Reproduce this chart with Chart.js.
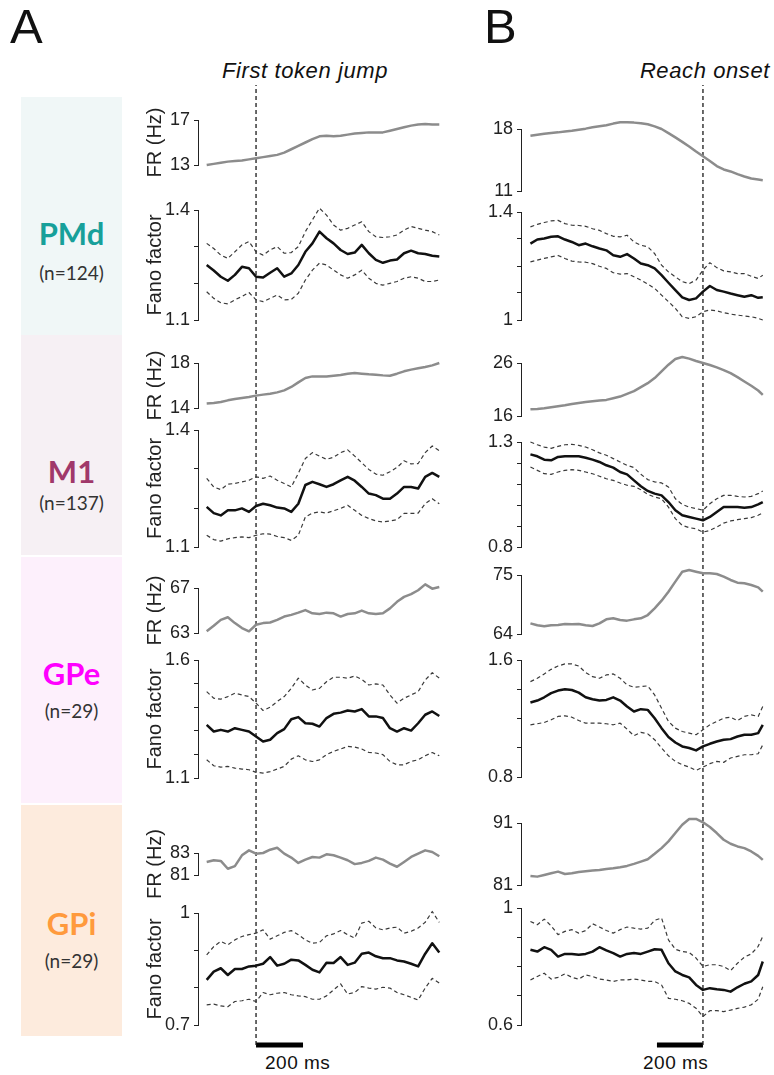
<!DOCTYPE html>
<html>
<head>
<meta charset="utf-8">
<script src="https://cdn.jsdelivr.net/npm/chart.js"></script>
<style>
  body { margin: 0; width: 774px; height: 1075px; position: relative; overflow: hidden; background: #fff;
         font-family: "Liberation Sans", Arial, sans-serif; color: #111; }
  canvas { position: absolute; }
  .txt { position: absolute; line-height: 1; white-space: nowrap; }
  .area { position: absolute; left: 21px; width: 101px; }
  .area .name, .area .n { position: absolute; left: 0; width: 101px; text-align: center; line-height: 1; font-family: Lato, "Open Sans", sans-serif; }
  .area .name { font-weight: bold; font-size: 31px; }
  .area .n { font-size: 19px; color: #333; }
</style>
</head>
<body>

<div class="txt" style="left:10px;top:2px;font-size:49px;">A</div>
<div class="txt" style="left:484px;top:2px;font-size:49px;">B</div>
<div class="txt" style="left:222px;top:60px;font-size:22px;font-style:italic;letter-spacing:0.6px;">First token jump</div>
<div class="txt" style="right:4px;top:60px;font-size:22px;font-style:italic;letter-spacing:0.6px;">Reach onset</div>

<div class="area" style="top:97px;height:238px;background:#f0f7f7;">
  <div class="name" style="top:121px;color:#17a09a;">PMd</div>
  <div class="n" style="top:166px;">(n=124)</div>
</div>
<div class="area" style="top:335px;height:220px;background:#f6f0f4;">
  <div class="name" style="top:121px;color:#a0386a;">M1</div>
  <div class="n" style="top:158px;">(n=137)</div>
</div>
<div class="area" style="top:557px;height:246px;background:#fdf0fc;">
  <div class="name" style="top:101px;color:#ff00ff;">GPe</div>
  <div class="n" style="top:144px;">(n=29)</div>
</div>
<div class="area" style="top:805px;height:231px;background:#fdebdd;">
  <div class="name" style="top:103px;color:#ff9a3c;">GPi</div>
  <div class="n" style="top:146px;">(n=29)</div>
</div>

<div class="txt" style="left:265px;top:1053px;font-size:19px;letter-spacing:0.5px;">200 ms</div>
<div class="txt" style="left:643px;top:1053px;font-size:19px;letter-spacing:0.5px;">200 ms</div>

<script>
// time (ms) relative to the event, column A = first token jump, column B = reach onset
const timeA = [-210, -180, -150, -120, -90, -60, -30, 0, 30, 60, 90, 120, 150, 180, 210, 240, 270,
               300, 330, 360, 390, 420, 450, 480, 510, 540, 570, 600, 630, 660, 690, 720, 750, 780];
const timeB = [-750, -720, -690, -660, -630, -600, -570, -540, -510, -480, -450, -420, -390, -360,
               -330, -300, -270, -240, -210, -180, -150, -120, -90, -60, -30, 0, 30, 60, 90, 120,
               150, 180, 210, 240, 260];

// event marker and 200 ms scale bars
const eventLine = [{x: 0, y: 0}, {x: 0, y: 1}];
const scaleBarA = [{x: 0, y: 0}, {x: 200, y: 0}];
const scaleBarB = [{x: -200, y: 0}, {x: 0, y: 0}];

// ---- PMd ----
const pmdRateA = [13.0, 13.1, 13.2, 13.3, 13.35, 13.4, 13.5, 13.6, 13.7, 13.8, 13.9, 14.1, 14.4, 14.7, 15.0, 15.3, 15.55,
                  15.6, 15.55, 15.6, 15.7, 15.8, 15.85, 15.9, 15.9, 15.9, 16.05, 16.2, 16.35, 16.5, 16.6, 16.65, 16.6, 16.6];
const pmdFanoA = [1.250, 1.235, 1.218, 1.207, 1.223, 1.245, 1.241, 1.218, 1.216, 1.229, 1.241, 1.218, 1.227, 1.250, 1.286, 1.309, 1.341,
                  1.323, 1.309, 1.291, 1.280, 1.284, 1.305, 1.282, 1.264, 1.256, 1.262, 1.265, 1.282, 1.289, 1.282, 1.280, 1.275, 1.273];
const pmdFanoHiA = [1.309, 1.295, 1.277, 1.268, 1.286, 1.305, 1.314, 1.286, 1.277, 1.291, 1.300, 1.282, 1.284, 1.300, 1.341, 1.373, 1.405,
                    1.386, 1.359, 1.345, 1.350, 1.359, 1.368, 1.341, 1.327, 1.325, 1.327, 1.332, 1.345, 1.355, 1.350, 1.345, 1.341, 1.332];
const pmdFanoLoA = [1.177, 1.159, 1.147, 1.144, 1.155, 1.164, 1.175, 1.155, 1.150, 1.159, 1.168, 1.155, 1.156, 1.173, 1.209, 1.236, 1.255,
                    1.250, 1.236, 1.223, 1.214, 1.223, 1.236, 1.214, 1.200, 1.195, 1.200, 1.205, 1.214, 1.218, 1.214, 1.205, 1.205, 1.209];
const pmdRateB = [17.24, 17.35, 17.47, 17.54, 17.62, 17.73, 17.81, 17.92, 18.04, 18.19, 18.30, 18.42, 18.61, 18.76, 18.76, 18.72, 18.65, 18.53,
                  18.30, 18.00, 17.54, 17.05, 16.55, 16.02, 15.45, 14.92, 14.39, 13.81, 13.43, 13.21, 12.90, 12.64, 12.41, 12.29, 12.22];
const pmdFanoB = [1.283, 1.298, 1.302, 1.308, 1.310, 1.298, 1.289, 1.277, 1.283, 1.273, 1.265, 1.258, 1.240, 1.234, 1.244, 1.228, 1.209, 1.203,
                  1.191, 1.166, 1.138, 1.111, 1.084, 1.074, 1.080, 1.105, 1.126, 1.111, 1.105, 1.098, 1.092, 1.086, 1.092, 1.082, 1.084];
const pmdFanoHiB = [1.345, 1.354, 1.361, 1.367, 1.369, 1.357, 1.351, 1.350, 1.347, 1.338, 1.332, 1.320, 1.310, 1.308, 1.314, 1.289, 1.277, 1.271,
                    1.246, 1.203, 1.178, 1.160, 1.142, 1.135, 1.148, 1.185, 1.212, 1.194, 1.182, 1.178, 1.172, 1.172, 1.162, 1.154, 1.166];
const pmdFanoLoB = [1.215, 1.222, 1.228, 1.234, 1.239, 1.228, 1.218, 1.215, 1.214, 1.209, 1.199, 1.191, 1.175, 1.170, 1.172, 1.160, 1.148, 1.133,
                    1.117, 1.092, 1.068, 1.043, 1.012, 1.006, 1.012, 1.031, 1.037, 1.034, 1.027, 1.022, 1.018, 1.015, 1.012, 1.006, 1.000];

// ---- M1 ----
const m1RateA = [14.39, 14.44, 14.53, 14.68, 14.80, 14.89, 14.98, 15.10, 15.19, 15.27, 15.39, 15.57, 15.87, 16.28, 16.67, 16.81, 16.81,
                 16.81, 16.87, 16.93, 17.05, 17.11, 17.05, 16.99, 16.96, 16.90, 16.87, 17.05, 17.26, 17.41, 17.53, 17.64, 17.79, 18.00];
const m1FanoA = [1.203, 1.187, 1.181, 1.194, 1.194, 1.199, 1.190, 1.205, 1.211, 1.207, 1.201, 1.199, 1.190, 1.211, 1.259, 1.267, 1.261,
                 1.254, 1.261, 1.271, 1.280, 1.270, 1.254, 1.237, 1.233, 1.224, 1.224, 1.237, 1.254, 1.254, 1.250, 1.280, 1.290, 1.280];
const m1FanoHiA = [1.276, 1.254, 1.247, 1.261, 1.263, 1.267, 1.271, 1.280, 1.276, 1.282, 1.271, 1.263, 1.254, 1.289, 1.327, 1.342, 1.333,
                   1.325, 1.330, 1.342, 1.349, 1.333, 1.316, 1.299, 1.287, 1.284, 1.293, 1.304, 1.321, 1.313, 1.314, 1.342, 1.359, 1.347];
const m1FanoLoA = [1.130, 1.119, 1.115, 1.121, 1.124, 1.126, 1.124, 1.130, 1.134, 1.133, 1.127, 1.124, 1.117, 1.130, 1.177, 1.187, 1.190,
                   1.187, 1.193, 1.199, 1.207, 1.194, 1.181, 1.173, 1.167, 1.164, 1.167, 1.170, 1.186, 1.186, 1.187, 1.211, 1.224, 1.211];
const m1RateB = [17.27, 17.33, 17.46, 17.65, 17.84, 18.03, 18.28, 18.47, 18.66, 18.78, 18.91, 19.04, 19.35, 19.67, 20.18, 20.68, 21.44, 22.20,
                 23.15, 24.42, 25.68, 26.76, 27.14, 26.82, 26.38, 26.00, 25.62, 25.18, 24.67, 24.10, 23.34, 22.52, 21.70, 20.81, 19.99];
const m1FanoB = [1.241, 1.232, 1.216, 1.213, 1.229, 1.232, 1.232, 1.232, 1.225, 1.216, 1.205, 1.189, 1.178, 1.157, 1.146, 1.117, 1.089, 1.067,
                 1.054, 1.046, 1.014, 0.975, 0.951, 0.943, 0.935, 0.927, 0.943, 0.967, 0.990, 0.990, 0.990, 0.987, 0.990, 1.003, 1.014];
const m1FanoHiB = [1.300, 1.287, 1.276, 1.270, 1.279, 1.287, 1.289, 1.284, 1.276, 1.263, 1.248, 1.237, 1.221, 1.205, 1.189, 1.178, 1.146, 1.121,
                   1.110, 1.105, 1.086, 1.030, 1.003, 0.990, 0.983, 0.975, 1.006, 1.030, 1.046, 1.046, 1.041, 1.038, 1.041, 1.054, 1.067];
const m1FanoLoB = [1.181, 1.165, 1.149, 1.146, 1.157, 1.165, 1.168, 1.165, 1.157, 1.149, 1.137, 1.125, 1.117, 1.105, 1.094, 1.089, 1.073, 1.051,
                   1.038, 1.030, 0.990, 0.935, 0.903, 0.892, 0.887, 0.871, 0.879, 0.895, 0.914, 0.924, 0.930, 0.935, 0.940, 0.951, 0.962];

// ---- GPe ----
const gpeRateA = [63.15, 63.64, 64.17, 64.40, 63.88, 63.44, 63.15, 63.73, 63.88, 63.93, 64.17, 64.46, 64.61, 64.81, 65.04, 64.75, 64.69,
                  64.81, 64.75, 64.46, 64.69, 64.75, 64.99, 64.75, 64.69, 64.75, 65.19, 65.77, 66.21, 66.45, 66.80, 67.32, 66.94, 67.09];
const gpeFanoA = [1.325, 1.297, 1.304, 1.297, 1.311, 1.304, 1.297, 1.276, 1.255, 1.262, 1.290, 1.307, 1.349, 1.358, 1.332, 1.330, 1.318,
                  1.354, 1.372, 1.377, 1.386, 1.382, 1.392, 1.361, 1.361, 1.354, 1.311, 1.297, 1.311, 1.301, 1.332, 1.368, 1.382, 1.363];
const gpeFanoHiA = [1.466, 1.438, 1.434, 1.445, 1.459, 1.452, 1.445, 1.417, 1.386, 1.400, 1.424, 1.445, 1.480, 1.523, 1.494, 1.473, 1.480,
                    1.508, 1.527, 1.527, 1.523, 1.532, 1.518, 1.494, 1.499, 1.494, 1.452, 1.417, 1.438, 1.452, 1.466, 1.515, 1.546, 1.523];
const gpeFanoLoA = [1.177, 1.152, 1.146, 1.149, 1.142, 1.138, 1.135, 1.124, 1.121, 1.127, 1.138, 1.149, 1.180, 1.194, 1.177, 1.170, 1.177,
                    1.199, 1.213, 1.223, 1.234, 1.231, 1.223, 1.208, 1.206, 1.199, 1.170, 1.156, 1.156, 1.170, 1.177, 1.194, 1.208, 1.194];
const gpeRateB = [65.99, 65.62, 65.43, 65.62, 65.68, 65.86, 65.80, 65.86, 65.62, 65.49, 65.99, 66.73, 66.92, 66.61, 66.49, 66.73, 66.92, 67.54,
                  68.78, 70.21, 71.89, 73.76, 75.62, 75.93, 75.62, 75.31, 75.31, 75.19, 74.69, 74.07, 73.57, 73.45, 73.14, 72.70, 71.89];
const gpeFanoB = [1.309, 1.323, 1.345, 1.373, 1.391, 1.400, 1.395, 1.377, 1.345, 1.332, 1.323, 1.327, 1.345, 1.323, 1.282, 1.248, 1.264, 1.259,
                  1.202, 1.134, 1.073, 1.036, 1.009, 0.998, 0.982, 1.009, 1.027, 1.043, 1.055, 1.059, 1.077, 1.089, 1.089, 1.100, 1.157];
const gpeFanoHiB = [1.452, 1.475, 1.505, 1.536, 1.559, 1.573, 1.573, 1.559, 1.514, 1.486, 1.475, 1.498, 1.505, 1.475, 1.430, 1.414, 1.418, 1.423,
                    1.361, 1.270, 1.180, 1.134, 1.111, 1.100, 1.089, 1.123, 1.157, 1.180, 1.202, 1.209, 1.186, 1.214, 1.225, 1.214, 1.282];
const gpeFanoLoB = [1.157, 1.164, 1.173, 1.191, 1.214, 1.218, 1.209, 1.186, 1.168, 1.168, 1.168, 1.164, 1.157, 1.168, 1.127, 1.082, 1.105, 1.095,
                    1.055, 0.998, 0.945, 0.907, 0.884, 0.868, 0.845, 0.868, 0.891, 0.907, 0.900, 0.930, 0.941, 0.952, 0.952, 0.959, 1.020];

// ---- GPi ----
const gpiRateA = [82.19, 82.34, 82.28, 81.57, 81.81, 82.79, 83.24, 82.94, 83.00, 83.30, 83.48, 82.94, 82.58, 82.10, 82.40, 82.64, 82.58,
                  82.88, 82.79, 82.58, 82.34, 81.99, 82.10, 82.28, 82.58, 82.40, 82.04, 81.75, 82.19, 82.64, 82.94, 83.24, 83.09, 82.70];
const gpiFanoA = [0.821, 0.843, 0.852, 0.834, 0.850, 0.850, 0.857, 0.859, 0.864, 0.882, 0.859, 0.864, 0.875, 0.873, 0.861, 0.848, 0.841,
                  0.867, 0.866, 0.882, 0.861, 0.867, 0.891, 0.894, 0.884, 0.879, 0.879, 0.873, 0.870, 0.864, 0.857, 0.891, 0.919, 0.894];
const gpiFanoHiA = [0.888, 0.910, 0.924, 0.915, 0.928, 0.937, 0.942, 0.946, 0.955, 0.930, 0.939, 0.948, 0.953, 0.942, 0.928, 0.919, 0.921,
                    0.939, 0.944, 0.953, 0.942, 0.933, 0.973, 0.978, 0.960, 0.955, 0.960, 0.962, 0.946, 0.951, 0.960, 0.975, 1.004, 0.975];
const gpiFanoLoA = [0.754, 0.756, 0.751, 0.749, 0.763, 0.765, 0.769, 0.763, 0.787, 0.781, 0.785, 0.787, 0.781, 0.778, 0.776, 0.769, 0.769,
                    0.778, 0.794, 0.810, 0.783, 0.787, 0.803, 0.799, 0.796, 0.801, 0.799, 0.787, 0.781, 0.774, 0.767, 0.799, 0.825, 0.812];
const gpiRateB = [82.46, 82.35, 82.62, 82.89, 83.16, 82.78, 82.89, 83.11, 83.22, 83.32, 83.43, 83.59, 83.70, 83.86, 84.08, 84.41, 84.78, 85.16,
                  86.03, 86.95, 88.03, 89.38, 90.73, 91.65, 91.65, 91.11, 90.35, 89.38, 88.30, 87.65, 87.22, 86.95, 86.41, 85.70, 85.05];
const gpiFanoB = [0.857, 0.851, 0.866, 0.857, 0.834, 0.843, 0.843, 0.840, 0.843, 0.851, 0.866, 0.855, 0.846, 0.834, 0.843, 0.846, 0.843, 0.851,
                  0.859, 0.857, 0.811, 0.783, 0.771, 0.763, 0.737, 0.720, 0.726, 0.722, 0.720, 0.714, 0.729, 0.741, 0.749, 0.771, 0.817];
const gpiFanoHiB = [0.954, 0.943, 0.962, 0.939, 0.909, 0.920, 0.926, 0.914, 0.923, 0.946, 0.935, 0.923, 0.914, 0.926, 0.935, 0.931, 0.928, 0.931,
                    0.958, 0.966, 0.891, 0.859, 0.851, 0.848, 0.829, 0.800, 0.806, 0.806, 0.800, 0.786, 0.811, 0.832, 0.843, 0.869, 0.903];
const gpiFanoLoB = [0.754, 0.766, 0.777, 0.757, 0.763, 0.775, 0.763, 0.757, 0.771, 0.766, 0.757, 0.754, 0.749, 0.754, 0.754, 0.757, 0.754, 0.749,
                    0.749, 0.737, 0.691, 0.688, 0.683, 0.674, 0.657, 0.629, 0.649, 0.649, 0.646, 0.651, 0.657, 0.661, 0.669, 0.688, 0.731];

// y ticks: only first and last get a label
const pmdRateTicksA = [13, 17];
const pmdFanoTicksA = [1.1, 1.2, 1.3, 1.4];
const m1RateTicksA = [14, 18];
const m1FanoTicksA = [1.1, 1.2, 1.3, 1.4];
const gpeRateTicksA = [63, 67];
const gpeFanoTicksA = [1.1, 1.2, 1.3, 1.4, 1.5, 1.6];
const gpiRateTicksA = [81, 83];
const gpiFanoTicksA = [0.7, 0.8, 0.9, 1];
const pmdRateTicksB = [11, 18];
const pmdFanoTicksB = [1, 1.1, 1.2, 1.3, 1.4];
const m1RateTicksB = [16, 26];
const m1FanoTicksB = [0.8, 0.9, 1, 1.1, 1.2, 1.3];
const gpeRateTicksB = [64, 75];
const gpeFanoTicksB = [0.8, 1, 1.2, 1.4, 1.6];
const gpiRateTicksB = [81, 91];
const gpiFanoTicksB = [0.6, 0.7, 0.8, 0.9, 1];

// column geometry (page pixels)
const columns = {
  A: { left: 130, width: 316, padLeft: 13, axisWidth: 55, xMin: -247, xMax: 783, axisX: 198, right: 440, time: timeA },
  B: { left: 470, width: 299, padLeft: 0, axisWidth: 51, xMin: -791, xMax: 261, axisX: 521, right: 763, time: timeB }
};
const PAD = 30;

const FR_STYLE = { borderColor: '#8c8c8c', borderWidth: 2.5 };
const MEAN_STYLE = { borderColor: '#111', borderWidth: 2.5 };
const BOUND_STYLE = { borderColor: '#3a3a3a', borderWidth: 1.2, borderDash: [4, 3] };

function addCanvas(left, top, w, h) {
  const c = document.createElement('canvas');
  c.width = w; c.height = h;
  c.style.left = left + 'px'; c.style.top = top + 'px';
  c.style.width = w + 'px'; c.style.height = h + 'px';
  document.body.appendChild(c);
  return c;
}

function toPoints(times, values) {
  return values.map((v, i) => ({ x: times[i], y: v }));
}

// event line + scale bar, drawn over a full-height column
function markerChart(colKey, bar) {
  const col = columns[colKey];
  const top = 80, bottom = 1045;
  const c = addCanvas(col.axisX, top, col.right - col.axisX, bottom - top + 5);
  new Chart(c, {
    type: 'line',
    data: { datasets: [
      { data: eventLine, borderColor: '#1a1a1a', borderWidth: 1.3, borderDash: [4, 3], pointRadius: 0, clip: false },
      { data: bar, borderColor: '#000', borderWidth: 5, borderCapStyle: 'butt', pointRadius: 0, clip: false }
    ] },
    options: {
      responsive: false, animation: false, events: [],
      layout: { padding: { left: 0, right: 0, top: 5, bottom: 5 } },
      plugins: { legend: { display: false }, tooltip: { enabled: false } },
      scales: {
        x: { type: 'linear', display: false, min: col.xMin, max: col.xMax },
        y: { display: false, min: 0, max: 1 }
      }
    }
  });
}

function panel(colKey, yTop, yBottom, ticks, series, title) {
  const col = columns[colKey];
  const c = addCanvas(col.left, yTop - PAD, col.width, yBottom - yTop + 2 * PAD);
  const lo = ticks[0], hi = ticks[ticks.length - 1];
  new Chart(c, {
    type: 'line',
    data: {
      datasets: series.map(s => Object.assign({
        data: toPoints(col.time, s.values), pointRadius: 0, tension: 0,
        borderJoinStyle: 'round', clip: false
      }, s.style))
    },
    options: {
      responsive: false, animation: false, events: [],
      layout: { padding: { left: col.padLeft, right: 6, top: PAD, bottom: PAD } },
      plugins: { legend: { display: false }, tooltip: { enabled: false } },
      scales: {
        x: { type: 'linear', display: false, min: col.xMin, max: col.xMax },
        y: {
          min: lo, max: hi,
          afterFit: s => { s.width = col.axisWidth; },
          afterBuildTicks: s => { s.ticks = ticks.map(v => ({ value: v })); },
          ticks: {
            autoSkip: false, padding: 4, color: '#222',
            font: { family: '"Liberation Sans", Arial, sans-serif', size: 18 },
            callback: v => (v === lo || v === hi) ? String(v) : ''
          },
          grid: { drawOnChartArea: false, drawTicks: true, tickLength: 4, color: '#222', lineWidth: 1 },
          border: { display: true, color: '#222', width: 1 },
          title: {
            display: !!title, text: title || '', color: '#222', padding: 0,
            font: { family: '"Liberation Sans", Arial, sans-serif', size: 20 }
          }
        }
      }
    }
  });
}

function rate(values) { return [{ values, style: FR_STYLE }]; }
function fano(mean, hiB, loB) {
  return [{ values: hiB, style: BOUND_STYLE }, { values: loB, style: BOUND_STYLE }, { values: mean, style: MEAN_STYLE }];
}

markerChart('A', scaleBarA);
markerChart('B', scaleBarB);

// column A
panel('A', 120, 165, pmdRateTicksA, rate(pmdRateA), 'FR (Hz)');
panel('A', 210, 320, pmdFanoTicksA, fano(pmdFanoA, pmdFanoHiA, pmdFanoLoA), 'Fano factor');
panel('A', 363, 408, m1RateTicksA, rate(m1RateA), 'FR (Hz)');
panel('A', 430, 547, m1FanoTicksA, fano(m1FanoA, m1FanoHiA, m1FanoLoA), 'Fano factor');
panel('A', 588, 633, gpeRateTicksA, rate(gpeRateA), 'FR (Hz)');
panel('A', 660, 778, gpeFanoTicksA, fano(gpeFanoA, gpeFanoHiA, gpeFanoLoA), 'Fano factor');
panel('A', 853, 875, gpiRateTicksA, rate(gpiRateA), 'FR (Hz)');
panel('A', 913, 1025, gpiFanoTicksA, fano(gpiFanoA, gpiFanoHiA, gpiFanoLoA), 'Fano factor');

// column B
panel('B', 129, 191, pmdRateTicksB, rate(pmdRateB));
panel('B', 212, 320, pmdFanoTicksB, fano(pmdFanoB, pmdFanoHiB, pmdFanoLoB));
panel('B', 363, 416, m1RateTicksB, rate(m1RateB));
panel('B', 442, 547, m1FanoTicksB, fano(m1FanoB, m1FanoHiB, m1FanoLoB));
panel('B', 575, 634, gpeRateTicksB, rate(gpeRateB));
panel('B', 660, 777, gpeFanoTicksB, fano(gpeFanoB, gpeFanoHiB, gpeFanoLoB));
panel('B', 823, 885, gpiRateTicksB, rate(gpiRateB));
panel('B', 908, 1025, gpiFanoTicksB, fano(gpiFanoB, gpiFanoHiB, gpiFanoLoB));
</script>
</body>
</html>
